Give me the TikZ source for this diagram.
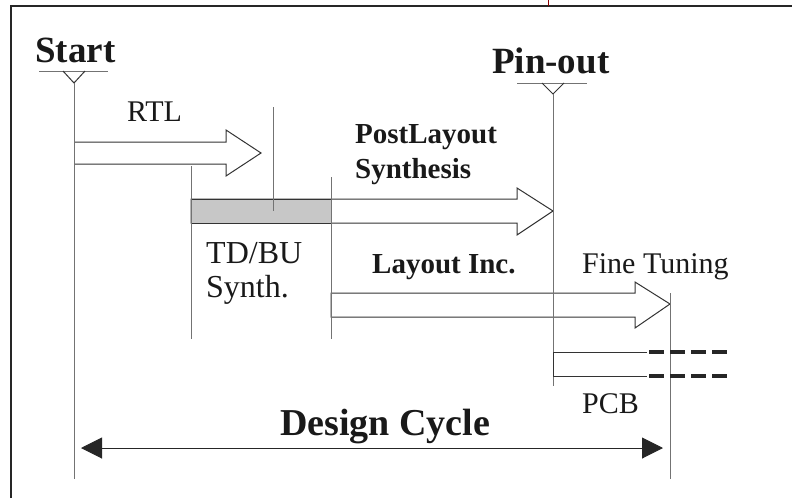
\documentclass[tikz,border=0pt]{standalone}
\usepackage{fontspec}
\setmainfont{Liberation Serif}
\usetikzlibrary{arrows.meta,positioning}

\begin{document}
\begin{tikzpicture}[
    x=1pt, y=-1pt,
    milestone/.style={inner sep=0pt, anchor=base west, font=\fontsize{37}{42}\selectfont\bfseries, text=black!90},
    phase/.style={inner sep=0pt, anchor=base west, font=\fontsize{29}{34}\selectfont\bfseries, text=black!90},
    lbl/.style={inner sep=0pt, anchor=base west, font=\fontsize{30}{35}\selectfont, text=black!90},
    guide/.style={draw=black!55, line width=1pt},
    blockarr/.style={draw=black!80, line width=1pt, line join=miter},
    frame/.style={draw=black!85, line width=1.3pt},
    pcb/.style={draw=black!85, line width=4pt, dash pattern=on 15pt off 6pt}
]
    \useasboundingbox (0,0) rectangle (792,498);

    % Frame
    \draw[frame] (11,498) -- (11,6) -- (792,6);
    \draw[draw=red!55!black, line width=1pt] (548,0) -- (548,6);

    % Milestones
    \node[milestone] (start) at (35,62) {Start};
    \node[milestone] (pinout) at (492,73) {Pin-out};
    \draw[guide] (39,71) -- (108,71);
    \draw[guide, draw=black!80] (63,71) -- (74,83) -- (85,71);
    \draw[guide] (517,83) -- (587,83);
    \draw[guide, draw=black!80] (542,83) -- (553,94) -- (564,83);

    % Block arrows
    \draw[blockarr] (74,142) -- (226,142) -- (226,130) -- (261,153) -- (226,176) -- (226,164) -- (74,164);
    \draw[blockarr] (191,199) -- (517,199) -- (517,188) -- (553,211) -- (517,235) -- (517,223) -- (191,223) -- cycle;
    \draw[blockarr, fill=black!22] (191,199) rectangle (331,223);
    \draw[blockarr] (331,293) -- (635,293) -- (635,282) -- (670,304) -- (635,328) -- (635,317) -- (331,317) -- cycle;

    % Time lines
    \draw[guide] (74,83) -- (74,479);
    \draw[guide] (273,107) -- (273,211);
    \draw[guide] (191,166) -- (191,339);
    \draw[guide] (331,177) -- (331,339);
    \draw[guide] (553,94) -- (553,386);
    \draw[guide] (670,293) -- (670,479);

    % PCB
    \draw[blockarr] (647,352) -- (553,352) -- (553,376) -- (647,376);
    \draw[pcb] (649,352) -- (727,352);
    \draw[pcb] (649,376) -- (727,376);

    % Labels
    \node[lbl] (rtl) at (127,121) {RTL};
    \node[phase] (post) at (355,143) {PostLayout};
    \node[phase] (postsyn) at ([yshift=-35pt]post.base west) {Synthesis};
    \node[lbl, font=\fontsize{32}{36}\selectfont] (tdbu) at (206,263) {TD/BU};
    \node[lbl, font=\fontsize{32}{36}\selectfont] (tdbusyn) at ([yshift=-34pt]tdbu.base west) {Synth.};
    \node[phase] (layinc) at (372,273) {Layout Inc.};
    \node[lbl] (fine) at (582,273) {Fine Tuning};
    \node[lbl] (pcblbl) at (582,413) {PCB};

    % Design cycle
    \coordinate (dcl) at (81,448);
    \coordinate (dcr) at (663,448);
    \draw[draw=black!85, line width=1pt, {Triangle[length=21pt,width=21pt]}-{Triangle[length=21pt,width=21pt]}] (dcl) -- (dcr);
    \node[milestone, font=\fontsize{38}{44}\selectfont\bfseries] (cycle) at (280,435) {Design Cycle};

\end{tikzpicture}
\end{document}
